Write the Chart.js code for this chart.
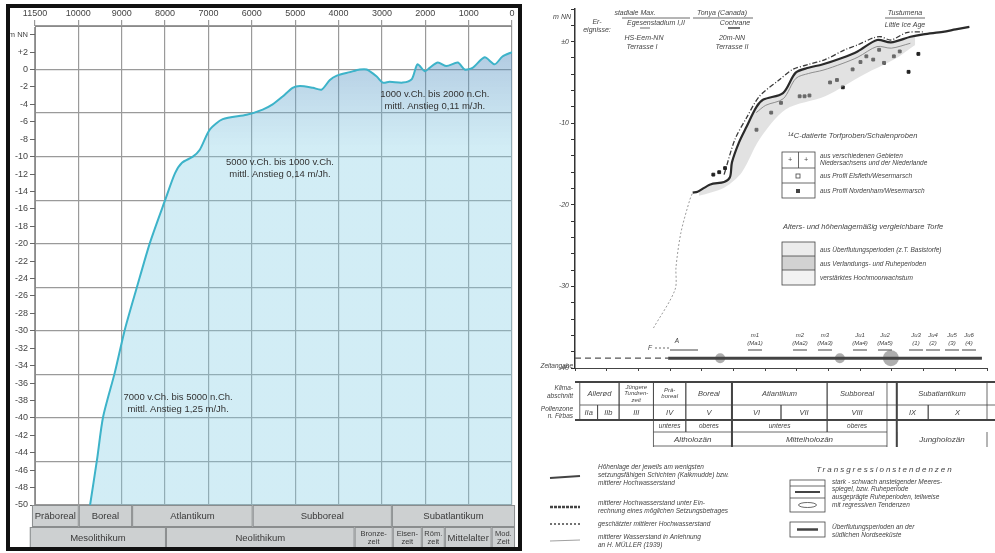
<!DOCTYPE html>
<html>
<head>
<meta charset="utf-8">
<script src="https://cdn.jsdelivr.net/npm/chart.js@4.4.1/dist/chart.umd.min.js"></script>
<style>
body{margin:0;background:#fff;}
#wrap{position:relative;width:995px;height:553px;overflow:hidden;}
canvas{position:absolute;top:0;}
#chart1{left:0}
#chart2{left:530px}
</style>
</head>
<body>
<div id="wrap">
<canvas id="chart1" width="530" height="553"></canvas>
<canvas id="chart2" width="465" height="553"></canvas>
</div>
<script>
// ---- left chart data (x = grid step, 0 = 11500 ... 11 = 0) ----
const yearLabels = ['11500','10000','9000','8000','7000','6000','5000','4000','3000','2000','1000','0']
const seaPos = [1.27,1.43,1.57,1.84,2.07,2.35,2.65,3.0,3.23,3.39,3.64,3.80,4.03,4.33,4.88,5.25,5.48,5.71,5.94,6.11,6.41,6.61,6.80,6.96,7.26,7.49,7.65,7.88,8.02,8.18,8.48,8.69,8.82,8.99,9.10,9.29,9.49,9.75,9.91,10.09,10.37,10.60,10.78,11.0]
const seaLevel = [-50,-44.8,-39.9,-34.8,-29.9,-25,-19.9,-15,-11.9,-10.7,-10,-9.2,-6.9,-5.7,-5.2,-4.6,-4.0,-3.1,-2.1,-1.9,-2.1,-2.3,-1.2,-0.7,-0.3,0,0,-0.8,-1.5,-1.4,-1.5,-1.1,0.6,-0.2,0.2,0.8,0.4,0.8,0,0.2,1.4,0.6,1.5,2.0]

const zoneNames = ['Präboreal','Boreal','Atlantikum','Subboreal','Subatlantikum']
const zoneEdges = [-0.07,1.01,2.24,5.02,8.23,11.07]
const cultureNames = ['Mesolithikum','Neolithikum','Bronze-\nzeit','Eisen-\nzeit','Röm.\nzeit','Mittelalter','Mod.\nZeit']
const cultureEdges = [-0.12,3.02,7.37,8.25,8.92,9.45,10.53,11.07]

const noteText = [
    ['1000 v.Ch. bis 2000 n.Ch.','mittl. Anstieg 0,11 m/Jh.'],
    ['5000 v.Ch. bis 1000 v.Ch.','mittl. Anstieg 0,14 m/Jh.'],
    ['7000 v.Ch. bis 5000 n.Ch.','mittl. Anstieg 1,25 m/Jh.']
]
const notePos = [9.22,5.65,3.3]
const noteLevel = [-2.9,-10.7,-37.6]

// ---- right chart data (years, m NN) ----
const earlyYear = [-7932,-7253,-7222,-7068,-6790,-6698]
const earlyLevel = [-35.1,-30.4,-27.6,-23.4,-19.4,-18.5]
const mainYear = [-6698,-6543,-6142,-5710,-5525,-5463,-5247,-5000,-4691,-4475,-3858,-3457,-3056,-2623,-2006,-1512,-895,-463,154,556,1173,1574,2006]
const mainLevel = [-18.5,-18.4,-17.5,-17.2,-16.6,-14.8,-12.4,-10.4,-8.0,-7.1,-6.3,-3.8,-3.2,-2.8,-2.0,-1.2,0.2,-0.1,0.6,0.9,1.2,1.5,1.8]
const upperYear = [-5710,-5370,-5000,-4599,-3981,-3549,-3056,-2531,-1914,-1512,-988,-772,-463,31,556]
const upperLevel = [-16.3,-12.0,-9.3,-6.7,-4.7,-3.4,-2.8,-2.2,-1.0,-0.4,0.5,0.6,0.2,1.1,1.2]
const lowerYear = [-4700,-4400,-3850,-3450,-3050,-2600,-2000,-1500,-900,-450,150]
const lowerLevel = [-8.7,-7.8,-7.0,-4.5,-3.9,-3.5,-2.7,-1.9,-0.6,-0.8,-0.2]
const bandYear = [-6500,-5710,-5150,-4600,-3765,-2531,-1296,-370,300]
const bandLevel = [-18.9,-17.9,-16.0,-12.0,-8.3,-6.7,-4.0,-2.2,-0.4]
const sampleYear = [-4691,-4228,-5864,-6049,-5679,-3920,-3333,-3179,-3025,-2377,-2160,-1975,-1667,-1420,-1235,-1019,-833,-679,-370,-185,93,401]
const sampleLevel = [-10.8,-8.7,-16.0,-16.3,-15.5,-7.5,-6.7,-6.7,-6.6,-5.0,-4.7,-5.6,-3.4,-2.5,-1.8,-2.2,-1.0,-2.6,-1.8,-1.2,-3.7,-1.5]
const barDashYear = [-10400,-7470]
const barYear = [-7470,2400]
const barLevel = -38.8
const blobYear = [-5833,-2068,-463]
const blobSize = [5,5,8]

const klimaNames = ['Allerød','Jüngere\nTundren-\nzeit','Prä-\nboreal','Boreal','Atlantikum','Subboreal','Subatlantikum']
const klimaEdges = [[-10250,-9012],[-9012,-7932],[-7932,-6914],[-6914,-5463],[-5463,-2469],[-2469,-586],[-278,2560]]
const pollenNames = ['IIa','IIb','III','IV','V','VI','VII','VIII','IX','X']
const pollenEdges = [[-10250,-9690],[-9690,-9012],[-9012,-7932],[-7932,-6914],[-6914,-5463],[-5463,-3920],[-3920,-2469],[-2469,-586],[-278,710],[710,2560]]
const subNames = ['unteres','oberes','unteres','oberes']
const subEdges = [[-7932,-6914],[-6914,-5463],[-5463,-2469],[-2469,-586]]
const holoNames = ['Altholozän','Mittelholozän','Jungholozän']
const holoEdges = [[-7932,-5463],[-5463,-586],[-278,2560]]

Chart.defaults.font.family = '"Liberation Sans", Arial, sans-serif'

function pts(xs, ys) {
    return xs.map((x, i) => ({x: x, y: Array.isArray(ys) ? ys[i] : ys}))
}

function renderChart() {
    const ctx1 = document.querySelector('#chart1').getContext('2d')
    leftChart(ctx1)
    const ctx2 = document.querySelector('#chart2').getContext('2d')
    rightChart(ctx2)
}

function leftChart(ctx) {

    const deco = {
        id: 'leftDeco',
        afterDraw(chart) {
            const c = chart.ctx
            const x = chart.scales.x
            const y = chart.scales.y
            c.save()
            c.fillStyle = '#333'
            c.textAlign = 'center'
            c.textBaseline = 'middle'
            c.font = '9.5px "Liberation Sans", Arial'
            noteText.forEach((lines, i) => {
                const px = x.getPixelForValue(notePos[i])
                const py = y.getPixelForValue(noteLevel[i])
                lines.forEach((s, k) => c.fillText(s, px, py + k * 12))
            })

            function row(names, edges, top, h, size) {
                names.forEach((n, i) => {
                    const a = x.getPixelForValue(edges[i])
                    const b = x.getPixelForValue(edges[i + 1])
                    c.fillStyle = '#cdd0d1'
                    c.fillRect(a, top, b - a, h)
                    c.strokeStyle = '#8a8d8e'
                    c.lineWidth = 1
                    c.strokeRect(a + 0.5, top + 0.5, b - a - 1, h - 1)
                    c.fillStyle = '#3a3a3a'
                    const lines = n.split('\n')
                    c.font = (lines.length > 1 ? 7.5 : size) + 'px "Liberation Sans", Arial'
                    lines.forEach((s, k) => c.fillText(s, (a + b) / 2, top + h / 2 + (k - (lines.length - 1) / 2) * 8.5))
                })
            }
            row(zoneNames, zoneEdges, 505, 22, 9.5)
            row(cultureNames, cultureEdges, 527, 22, 9.5)

            c.strokeStyle = '#111'
            c.lineWidth = 4
            c.strokeRect(8, 6, 512, 543)
            c.restore()
        }
    }

    const chart = new Chart(ctx, {
        type: 'line',
        data: {
            datasets: [
                {
                    label: 'Meeresspiegel',
                    data: pts(seaPos, seaLevel),
                    borderColor: '#3db3c9',
                    borderWidth: 2,
                    pointRadius: 0,
                    tension: 0.25,
                    fill: 'start',
                    backgroundColor: (c) => {
                        const ch = c.chart
                        if (!ch.chartArea) return 'rgba(130,205,228,0.35)'
                        const sy = ch.scales.y
                        const g = ch.ctx.createLinearGradient(0, sy.getPixelForValue(2), 0, sy.getPixelForValue(-9))
                        g.addColorStop(0, 'rgba(70,130,185,0.42)')
                        g.addColorStop(1, 'rgba(130,205,228,0.36)')
                        return g
                    }
                }
            ]
        },
        options: {
            responsive: false,
            animation: false,
            events: [],
            layout: {padding: {left: 5, top: 6, right: 18, bottom: 48}},
            plugins: {legend: {display: false}, tooltip: {enabled: false}},
            scales: {
                x: {
                    type: 'linear', position: 'top', min: 0, max: 11,
                    ticks: {stepSize: 1, autoSkip: false, maxRotation: 0, padding: 1, color: '#444', font: {size: 9},
                        callback: (v) => yearLabels[v]},
                    grid: {color: '#9a9a9a', lineWidth: 1.2, tickLength: 6},
                    border: {color: '#8a8a8a'},
                    afterFit: (s) => { s.height = 20 }
                },
                y: {
                    min: -50, max: 5,
                    ticks: {stepSize: 2, includeBounds: false, padding: 2, color: '#444',
                        font: (c) => ({size: c.tick && c.tick.value === 4 ? 7.5 : 9}),
                        callback: (v) => v === 4 ? 'm NN' : (v > 0 ? '+' + v : String(v))},
                    grid: {drawOnChartArea: false, tickLength: 5, color: '#666'},
                    border: {color: '#8a8a8a'},
                    afterFit: (s) => { s.width = 30 }
                },
                y2: {
                    position: 'right', min: -50, max: 5,
                    ticks: {stepSize: 5, display: false, includeBounds: false},
                    grid: {color: '#9a9a9a', lineWidth: 1.2, drawTicks: false},
                    border: {display: false},
                    afterFit: (s) => { s.width = 0 }
                }
            }
        },
        plugins: [deco]
    })
}

function rightChart(ctx) {
    const OX = 530

    const deco = {
        id: 'rightDeco',
        afterDraw(chart) {
            const c = chart.ctx
            const x = chart.scales.x
            c.save()
            c.textBaseline = 'middle'
            c.fillStyle = '#444'
            c.strokeStyle = '#444'

            function t(s, gx, gy, align, size) {
                c.textAlign = align || 'center'
                c.font = 'italic ' + (size || 7) + 'px "Liberation Sans", Arial'
                c.fillText(s, gx - OX, gy)
            }
            function ln(x1, y1, x2, y2, w, dash) {
                c.lineWidth = w || 0.8
                c.setLineDash(dash || [])
                c.beginPath()
                c.moveTo(x1 - OX, y1)
                c.lineTo(x2 - OX, y2)
                c.stroke()
                c.setLineDash([])
            }

            // axis caption and top events
            t('m NN', 571, 17, 'right', 7)
            t('Er-', 597, 22); t('eignisse:', 597, 30)
            t('stadiale Max.', 635, 13); ln(622, 18, 690, 18)
            t('Egesenstadium I,II', 656, 23); ln(640, 28, 650, 28)
            t('HS-Eem-NN', 644, 38); t('Terrasse I', 642, 47)
            t('Tonya (Canada)', 722, 13); ln(693, 18, 753, 18)
            t('Cochrane', 735, 23); ln(728, 28, 740, 28, 1.5)
            t('20m-NN', 732, 38); t('Terrasse II', 732, 47)
            t('Tustumena', 905, 13); ln(885, 18, 925, 18)
            t('Little Ice Age', 905, 25)

            // legend 1
            t('¹⁴C-datierte Torfproben/Schalenproben', 788, 136, 'left', 7.5)
            c.lineWidth = 0.8
            c.strokeRect(782 - OX, 152, 33, 46)
            ln(782, 168, 815, 168); ln(782, 183, 815, 183); ln(798.5, 152, 798.5, 168)
            t('+', 790, 160); t('+', 806, 160)
            c.strokeRect(796 - OX, 174, 4, 4)
            c.fillRect(796 - OX, 189, 4, 4)
            t('aus verschiedenen Gebieten', 820, 156, 'left', 6.5)
            t('Niedersachsens und der Niederlande', 820, 163, 'left', 6.5)
            t('aus Profil Elsfleth/Wesermarsch', 820, 176, 'left', 6.5)
            t('aus Profil Nordenham/Wesermarsch', 820, 191, 'left', 6.5)

            // legend 2
            t('Alters- und höhenlagemäßig vergleichbare Torfe', 783, 227, 'left', 7.5)
            c.fillStyle = '#ececec'; c.fillRect(782 - OX, 242, 33, 14)
            c.fillStyle = '#d2d2d2'; c.fillRect(782 - OX, 256, 33, 14)
            c.fillStyle = '#f2f2f2'; c.fillRect(782 - OX, 270, 33, 15)
            c.fillStyle = '#444'
            c.strokeRect(782 - OX, 242, 33, 43)
            ln(782, 256, 815, 256); ln(782, 270, 815, 270)
            t('aus Überflutungsperioden (z.T. Basistorfe)', 820, 250, 'left', 6.5)
            t('aus Verlandungs- und Ruheperioden', 820, 264, 'left', 6.5)
            t('verstärktes Hochmoorwachstum', 820, 278, 'left', 6.5)

            // marks above the bar
            t('F', 650, 348, 'center', 6.5); ln(655, 348, 670, 348, 0.8, [2, 2]); ln(670, 350, 698, 350, 1)
            t('A', 677, 341, 'center', 6.5)
            const marks = [['m1', '(Ma1)', 755], ['m2', '(Ma2)', 800], ['m3', '(Ma3)', 825], ['Ju1', '(Ma4)', 860], ['Ju2', '(Ma5)', 885],
                ['Ju3', '(1)', 916], ['Ju4', '(2)', 933], ['Ju5', '(3)', 952], ['Ju6', '(4)', 969]]
            marks.forEach(m => { t(m[0], m[2], 335, 'center', 6); t(m[1], m[2], 343, 'center', 6); ln(m[2] - 7, 350, m[2] + 7, 350, 1) })

            // table
            const rowTop = [382, 405, 420, 432, 447]
            t('Zeitangabe', 573, 366, 'right', 6.5)
            t('Klima-', 573, 388, 'right', 6.5); t('abschnitt', 573, 396, 'right', 6.5)
            t('Pollenzone', 573, 409, 'right', 6.5); t('n. Firbas', 573, 416, 'right', 6.5)
            ln(575, 382, 995, 382, 2)
            ln(580, 405, 995, 405, 0.8)
            ln(575, 420, 995, 420, 2)
            function cells(names, edges, r, size) {
                names.forEach((n, i) => {
                    const a = x.getPixelForValue(edges[i][0]) + OX
                    const b = x.getPixelForValue(edges[i][1]) + OX
                    ln(a, rowTop[r], a, rowTop[r + 1]); ln(b, rowTop[r], b, rowTop[r + 1])
                    const lines = n.split('\n')
                    const sz = lines.length > 1 ? 6 : size
                    lines.forEach((s, k) => t(s, (a + b) / 2, (rowTop[r] + rowTop[r + 1]) / 2 + (k - (lines.length - 1) / 2) * 6.5, 'center', sz))
                })
            }
            cells(klimaNames, klimaEdges, 0, 7.5)
            cells(pollenNames, pollenEdges, 1, 7.5)
            cells(subNames, subEdges, 2, 6.5)
            cells(holoNames, holoEdges, 3, 8)
            subEdges.forEach(e => ln(x.getPixelForValue(e[0]) + OX, 432, x.getPixelForValue(e[1]) + OX, 432))
            ln(x.getPixelForValue(-7932) + OX, 446, x.getPixelForValue(-586) + OX, 446)
            ln(x.getPixelForValue(-5463) + OX, 382, x.getPixelForValue(-5463) + OX, 447, 2)
            ln(x.getPixelForValue(-278) + OX, 382, x.getPixelForValue(-278) + OX, 447, 2)

            // bottom legend
            ln(550, 478, 580, 476, 2)
            t('Höhenlage der jeweils am wenigsten', 598, 467, 'left', 6.5)
            t('setzungsfähigen Schichten (Kalkmudde) bzw.', 598, 475, 'left', 6.5)
            t('mittlerer Hochwasserstand', 598, 483, 'left', 6.5)
            ln(550, 507, 580, 507, 2.5, [3, 1])
            t('mittlerer Hochwasserstand unter Ein-', 598, 503, 'left', 6.5)
            t('rechnung eines möglichen Setzungsbetrages', 598, 511, 'left', 6.5)
            ln(550, 524, 580, 524, 1.5, [2, 2])
            t('geschätzter mittlerer Hochwasserstand', 598, 524, 'left', 6.5)
            c.strokeStyle = '#888'
            ln(550, 541, 580, 540, 0.8)
            c.strokeStyle = '#444'
            t('mittlerer Wasserstand in Anlehnung', 598, 537, 'left', 6.5)
            t('an H. MÜLLER (1939)', 598, 545, 'left', 6.5)

            c.save()
            c.letterSpacing = '2px'
            t('Transgressionstendenzen', 885, 470, 'center', 8)
            c.restore()
            c.lineWidth = 0.8
            c.strokeRect(790 - OX, 480, 35, 32)
            ln(790, 486, 825, 486, 0.8); ln(795, 492, 820, 492, 2); ln(790, 498, 825, 498, 0.8)
            c.beginPath(); c.ellipse(807.5 - OX, 505, 9, 2.5, 0, 0, Math.PI * 2); c.stroke()
            t('stark - schwach ansteigender Meeres-', 832, 482, 'left', 6.5)
            t('spiegel, bzw. Ruheperiode', 832, 489, 'left', 6.5)
            t('ausgeprägte Ruheperioden, teilweise', 832, 497, 'left', 6.5)
            t('mit regressiven Tendenzen', 832, 505, 'left', 6.5)
            c.strokeRect(790 - OX, 522, 35, 15)
            ln(797, 529.5, 818, 529.5, 2.5)
            t('Überflutungsperioden an der', 832, 527, 'left', 6.5)
            t('südlichen Nordseeküste', 832, 535, 'left', 6.5)
            c.restore()
        }
    }

    const chart = new Chart(ctx, {
        type: 'line',
        data: {
            datasets: [
                {
                    label: 'mittlerer Hochwasserstand',
                    data: pts(mainYear, mainLevel),
                    borderColor: '#2a2a2a', borderWidth: 2.2, pointRadius: 0, tension: 0.3
                },
                {
                    label: 'Torfe',
                    data: pts(bandYear, bandLevel),
                    borderWidth: 0, pointRadius: 0, tension: 0.3,
                    fill: 0, backgroundColor: 'rgba(190,190,190,0.45)'
                },
                {
                    label: 'geschätzt',
                    data: pts(upperYear, upperLevel),
                    borderColor: '#3a3a3a', borderWidth: 1.3, borderDash: [5, 2, 1, 2], pointRadius: 0, tension: 0.3
                },
                {
                    label: 'Setzung',
                    data: pts(lowerYear, lowerLevel),
                    borderColor: '#555', borderWidth: 0.9, pointRadius: 0, tension: 0.3
                },
                {
                    label: 'Wasserstand',
                    data: pts(earlyYear, earlyLevel),
                    borderColor: '#9a9a9a', borderWidth: 1, borderDash: [2, 2], pointRadius: 0, tension: 0.3
                },
                {
                    label: 'Proben',
                    data: pts(sampleYear, sampleLevel),
                    showLine: false, pointStyle: 'rect', pointRadius: 2, backgroundColor: '#222', borderColor: '#222'
                },
                {
                    label: 'bar-dash',
                    data: pts(barDashYear, barLevel),
                    borderColor: '#555', borderWidth: 1.2, borderDash: [6, 4], pointRadius: 0
                },
                {
                    label: 'bar',
                    data: pts(barYear, barLevel),
                    borderColor: '#444', borderWidth: 3, pointRadius: 0
                },
                {
                    label: 'blobs',
                    data: pts(blobYear, barLevel),
                    showLine: false, pointRadius: blobSize, backgroundColor: 'rgba(120,120,120,0.6)', borderWidth: 0
                }
            ]
        },
        options: {
            responsive: false,
            animation: false,
            events: [],
            layout: {padding: {left: 15, top: 9, right: 0, bottom: 171}},
            plugins: {legend: {display: false}, tooltip: {enabled: false}},
            scales: {
                x: {
                    type: 'linear', min: -10400, max: 2560,
                    ticks: {stepSize: 1000, includeBounds: false, autoSkip: false, maxRotation: 0, padding: 0, color: '#444',
                        font: {size: 7, style: 'italic'},
                        callback: (v) => v === 0 ? '±0' : (v % 2000 === 0 ? (v > 0 ? '+' + v : String(v)) : '')},
                    grid: {drawOnChartArea: false, tickLength: 3, color: '#444'},
                    border: {color: '#444'},
                    afterFit: (s) => { s.height = 14 }
                },
                y: {
                    min: -40, max: 4,
                    ticks: {stepSize: 2, includeBounds: false, padding: 2, color: '#444', font: {size: 7, style: 'italic'},
                        callback: (v) => v === 0 ? '±0' : (v % 10 === 0 ? String(v) : '')},
                    grid: {drawOnChartArea: false, tickLength: 4, color: '#333'},
                    border: {color: '#333', width: 1.5},
                    afterFit: (s) => { s.width = 30 }
                }
            }
        },
        plugins: [deco]
    })
}

renderChart()
</script>
</body>
</html>
